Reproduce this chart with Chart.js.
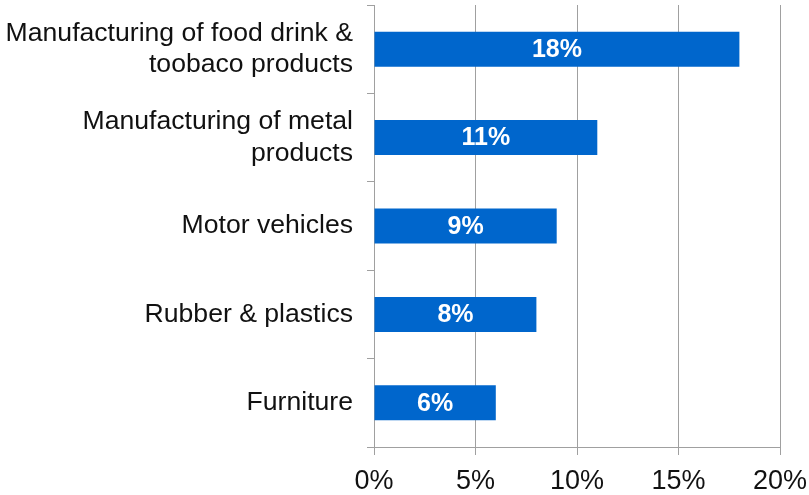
<!DOCTYPE html>
<html>
<head>
<meta charset="utf-8">
<script src="https://cdn.jsdelivr.net/npm/chart.js@4"></script>
<style>
html,body{margin:0;padding:0;background:#fff;}
#wrap{width:809px;height:495px;position:relative;}
</style>
</head>
<body>
<div id="wrap"><canvas id="c"></canvas></div>
<script>
const categories = [
  ["Manufacturing of food drink &", "toobaco products"],
  ["Manufacturing of metal", "products"],
  "Motor vehicles",
  "Rubber & plastics",
  "Furniture"
];
const shares = [18, 11, 9, 8, 6];
const xTicks = [0, 5, 10, 15, 20];

const barLabels = {
  id: 'barLabels',
  afterDatasetsDraw(chart) {
    const ctx = chart.ctx;
    const meta = chart.getDatasetMeta(0);
    ctx.save();
    ctx.fillStyle = '#ffffff';
    ctx.font = 'bold 25px "Liberation Sans", Arial, sans-serif';
    ctx.textAlign = 'center';
    ctx.textBaseline = 'middle';
    meta.data.forEach((bar, i) => {
      const cx = (bar.x + bar.base) / 2;
      ctx.fillText(shares[i] + '%', cx, bar.y + 1);
    });
    ctx.restore();
  }
};

new Chart(document.getElementById('c'), {
  type: 'bar',
  data: {
    labels: categories,
    datasets: [{
      data: shares,
      backgroundColor: '#0066CC',
      borderWidth: 0,
      barPercentage: 0.396,
      categoryPercentage: 1.0
    }]
  },
  options: {
    indexAxis: 'y',
    responsive: true,
    maintainAspectRatio: false,
    animation: false,
    layout: { padding: { top: 5, right: 29, left: 0, bottom: 0 } },
    plugins: { legend: { display: false }, tooltip: { enabled: false } },
    scales: {
      x: {
        min: 0, max: 20,
        afterFit(scale) { scale.height = 48; scale.paddingLeft = 0; scale.paddingRight = 0; },
        afterBuildTicks(scale) { scale.ticks = xTicks.map(v => ({ value: v })); },
        ticks: {
          callback: v => v + '%',
          color: '#111',
          font: { family: '"Liberation Sans", Arial, sans-serif', size: 27 },
          padding: 10,
          maxRotation: 0
        },
        grid: { color: '#a0a0a0', lineWidth: 1, tickLength: 8 },
        border: { color: '#a0a0a0', width: 1 }
      },
      y: {
        afterFit(scale) { scale.width = 374; scale.paddingTop = 0; scale.paddingBottom = 0; },
        ticks: {
          color: '#111',
          font: { family: '"Liberation Sans", Arial, sans-serif', size: 26.6, lineHeight: 1.17 },
          padding: 14
        },
        grid: { offset: true, drawOnChartArea: false, color: '#a0a0a0', tickLength: 7 },
        border: { color: '#a0a0a0', width: 1 }
      }
    }
  },
  plugins: [barLabels]
});
</script>
</body>
</html>
